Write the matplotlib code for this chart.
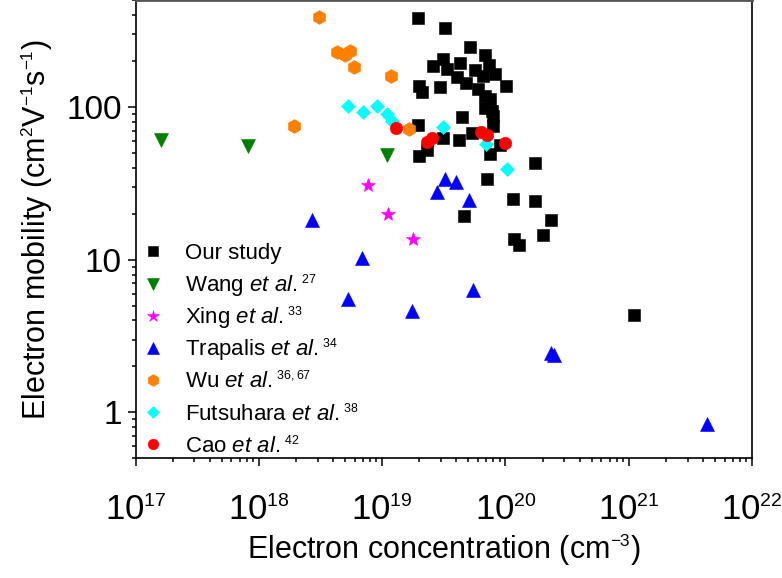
#!/usr/bin/env python3

import matplotlib
matplotlib.use("Agg")
import matplotlib._mathtext as mathtext_internals
from matplotlib import pyplot
from matplotlib.ticker import LogLocator

# smaller superscripts, closer to the original figure
mathtext_internals.SHRINK_FACTOR = 0.56

# electron concentration (cm^-3) and mobility (cm^2/Vs)
our_n = [1.95e19, 3.22e19, 5.13e19, 6.87e19, 3.13e19, 2.60e19, 4.31e19, 3.38e19,
         7.40e19, 5.67e19, 4.07e19, 6.55e19, 8.28e19, 4.79e19, 1.98e19, 2.11e19,
         2.96e19, 6.00e19, 1.005e20, 6.79e19, 7.50e19, 6.79e19, 7.78e19, 7.98e19,
         4.47e19, 1.94e19, 7.98e19, 5.36e19, 3.10e19, 4.23e19, 9.04e19, 2.30e19,
         7.50e19, 2.00e19, 1.74e20, 7.10e19, 1.15e20, 1.74e20, 4.59e19, 2.34e20,
         2.02e20, 1.18e20, 1.28e20, 1.11e21]
our_mu = [385, 331, 249, 219, 206, 187, 194, 177,
          190, 175, 158, 159, 164, 145, 138, 126,
          135, 131, 137, 119, 113, 98, 94.2, 87.8,
          85.6, 75.9, 75.5, 67.2, 63.0, 60.5, 56.4, 52.4,
          49.0, 47.5, 43.0, 33.6, 24.9, 24.3, 19.4, 18.2,
          14.6, 13.6, 12.5, 4.33]

wang_n = [1.61e17, 8.22e17, 1.10e19]
wang_mu = [60.8, 55.5, 48.5]

xing_n = [7.73e18, 1.12e19, 1.79e19]
xing_mu = [31.1, 19.8, 13.6]

trapalis_n = [2.70e18, 6.91e18, 5.32e18, 1.76e19, 3.24e19, 3.95e19,
              2.80e19, 5.10e19, 5.49e19, 2.33e20, 2.49e20, 4.29e21]
trapalis_mu = [18.2, 10.3, 5.52, 4.61, 33.6, 32.1,
               27.9, 24.6, 6.32, 2.46, 2.37, 0.842]

wu_n = [3.09e18, 4.27e18, 5.00e18, 5.44e18, 5.88e18, 1.17e19, 1.93e18, 1.66e19]
wu_mu = [389, 229, 221, 232, 184, 161, 75.5, 71.8]

futsuhara_n = [5.32e18, 7.04e18, 9.14e18, 1.10e19, 1.21e19, 3.10e19, 6.93e19, 1.025e20]
futsuhara_mu = [101, 93.3, 101.8, 89.6, 81.5, 74.5, 57.2, 39.2]

cao_n = [1.30e19, 2.30e19, 2.52e19, 6.28e19, 7.03e19, 9.87e19]
cao_mu = [72.5, 59.2, 62.4, 68.6, 65.3, 58.5]

pyplot.rcParams['font.family'] = ['Liberation Sans', 'DejaVu Sans']
pyplot.rcParams['mathtext.fontset'] = 'custom'
pyplot.rcParams['mathtext.rm'] = 'Liberation Sans'
pyplot.rcParams['mathtext.it'] = 'Liberation Sans:italic'

fig = pyplot.figure(figsize=(7.82, 5.78), dpi=100)
ax = fig.add_axes([0.1733, 0.2071, 0.7884, 0.7921])

series = [
    (our_n, our_mu, 's', 'black', 8, 'Our study'),
    (wang_n, wang_mu, 'v', '#008000', 10, r'Wang $\mathit{et\ al.}^{27}$'),
    (xing_n, xing_mu, '*', '#FF00FF', 10.5, r'Xing $\mathit{et\ al.}^{33}$'),
    (trapalis_n, trapalis_mu, '^', '#0000FF', 10, r'Trapalis $\mathit{et\ al.}^{34}$'),
    (wu_n, wu_mu, 'h', '#FF8000', 10, r'Wu $\mathit{et\ al.}^{36,67}$'),
    (futsuhara_n, futsuhara_mu, 'D', '#00FFFF', 7.5, r'Futsuhara $\mathit{et\ al.}^{38}$'),
    (cao_n, cao_mu, 'o', '#FF0000', 9, r'Cao $\mathit{et\ al.}^{42}$'),
]

for n, mu, marker, color, size, label in series:
    ax.plot(n, mu, linestyle='none', marker=marker, color=color,
            markersize=size, markeredgewidth=0.4, label=label)

# hand-placed legend so the rows keep an even spacing
row_top = 0.452
row_step = 0.0703
for i, (n, mu, marker, color, size, label) in enumerate(series):
    y = row_top - i * row_step
    ax.plot([0.0284], [y], transform=ax.transAxes, linestyle='none', marker=marker,
            color=color, markersize=size * 0.85, markeredgewidth=0.4, clip_on=False)
    ax.text(0.0803, y - 0.017, label, transform=ax.transAxes, fontsize=16,
            va='baseline', ha='left')

ax.set_xscale('log')
ax.set_yscale('log')
ax.set_xlim(1e17, 1e22)
ax.set_ylim(0.5, 500)

ax.xaxis.set_major_locator(LogLocator(base=10, numticks=20))
ax.xaxis.set_minor_locator(LogLocator(base=10, subs=range(2, 10), numticks=20))
ax.yaxis.set_minor_locator(LogLocator(base=10, subs=range(2, 10), numticks=20))
ax.set_yticks([1, 10, 100])
ax.set_yticklabels(['1', '10', '100'])

ax.tick_params(which='both', direction='out', top=False, right=False, width=1.1)
ax.tick_params(which='major', length=6)
ax.tick_params(axis='x', which='major', pad=20, labelsize=25)
ax.tick_params(axis='y', which='major', pad=4, labelsize=24)
ax.tick_params(which='minor', length=3)

for side in ['left', 'bottom', 'right']:
    ax.spines[side].set_linewidth(1.2)
ax.spines['top'].set_linewidth(2.0)
ax.spines['top'].set_color('#555555')

ax.set_xlabel(r'Electron concentration (cm$^{-3}$)', fontsize=22, labelpad=4)
ax.set_ylabel(r'Electron mobility (cm$^{2}$V$^{-1}$s$^{-1}$)', fontsize=22, labelpad=8)

fig.savefig('out.png', dpi=100)
